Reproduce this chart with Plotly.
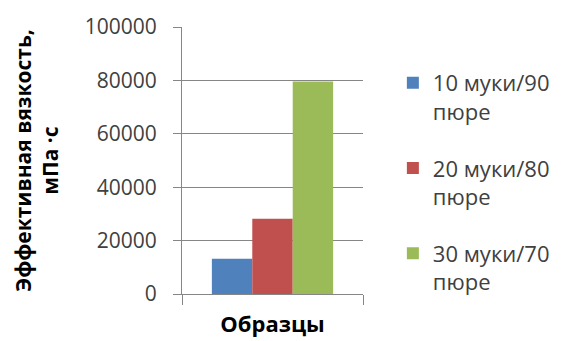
import plotly.graph_objects as go

series_names = ["10 муки/90<br>пюре", "20 муки/80<br>пюре", "30 муки/70<br>пюре"]
values = [13200, 28200, 79600]
colors = ["#4F81BD", "#C0504D", "#9BBB59"]
y_ticks = [0, 20000, 40000, 60000, 80000, 100000]
x_title = "Образцы"
y_title = "Эффективная вязкость,<br>мПа ·с"

font_family = "Open Sans"

fig = go.Figure()
for i, (name, v, c) in enumerate(zip(series_names, values, colors)):
    fig.add_trace(go.Bar(x=[0], y=[v], name=name, marker_color=c,
                         marker_line_width=0, legendgroup=f"g{i}"))

# the page body adds an 8px offset, so the figure is sized to fit the window
fig.update_layout(
    width=555, height=333,
    margin=dict(l=174, r=200, t=19, b=47, autoexpand=False),
    paper_bgcolor="white", plot_bgcolor="white",
    barmode="group", bargap=0.33, bargroupgap=0,
    font=dict(family=font_family, color="#404040"),
    legend=dict(x=1.165, xanchor="left", y=0.869, yanchor="top",
                font=dict(size=22, color="#404040", family=font_family),
                tracegroupgap=25, valign="top", itemwidth=30),
    showlegend=True,
)
fig.update_xaxes(range=[-0.5, 0.5], tickvals=[-0.5, 0.5], ticktext=["", ""],
                 ticks="outside", ticklen=10, tickcolor="#868686",
                 showline=True, linecolor="#868686", linewidth=1,
                 showgrid=False, zeroline=False, automargin=False,
                 title=dict(text="<b>" + x_title + "</b>",
                            font=dict(size=22, color="black", family=font_family),
                            standoff=10))
fig.update_yaxes(range=[0, 100000], tickvals=y_ticks, tickformat="d",
                 ticks="outside", ticklen=8, tickcolor="#868686",
                 showline=True, linecolor="#868686", linewidth=1,
                 showgrid=True, gridcolor="#868686", gridwidth=1,
                 zeroline=False, automargin=False, ticklabelstandoff=12,
                 tickfont=dict(size=21, color="#404040", family=font_family),
                 title=dict(text="<b>" + y_title + "</b>",
                            font=dict(size=21, color="black", family=font_family),
                            standoff=20))

fig.write_html("out.html")
